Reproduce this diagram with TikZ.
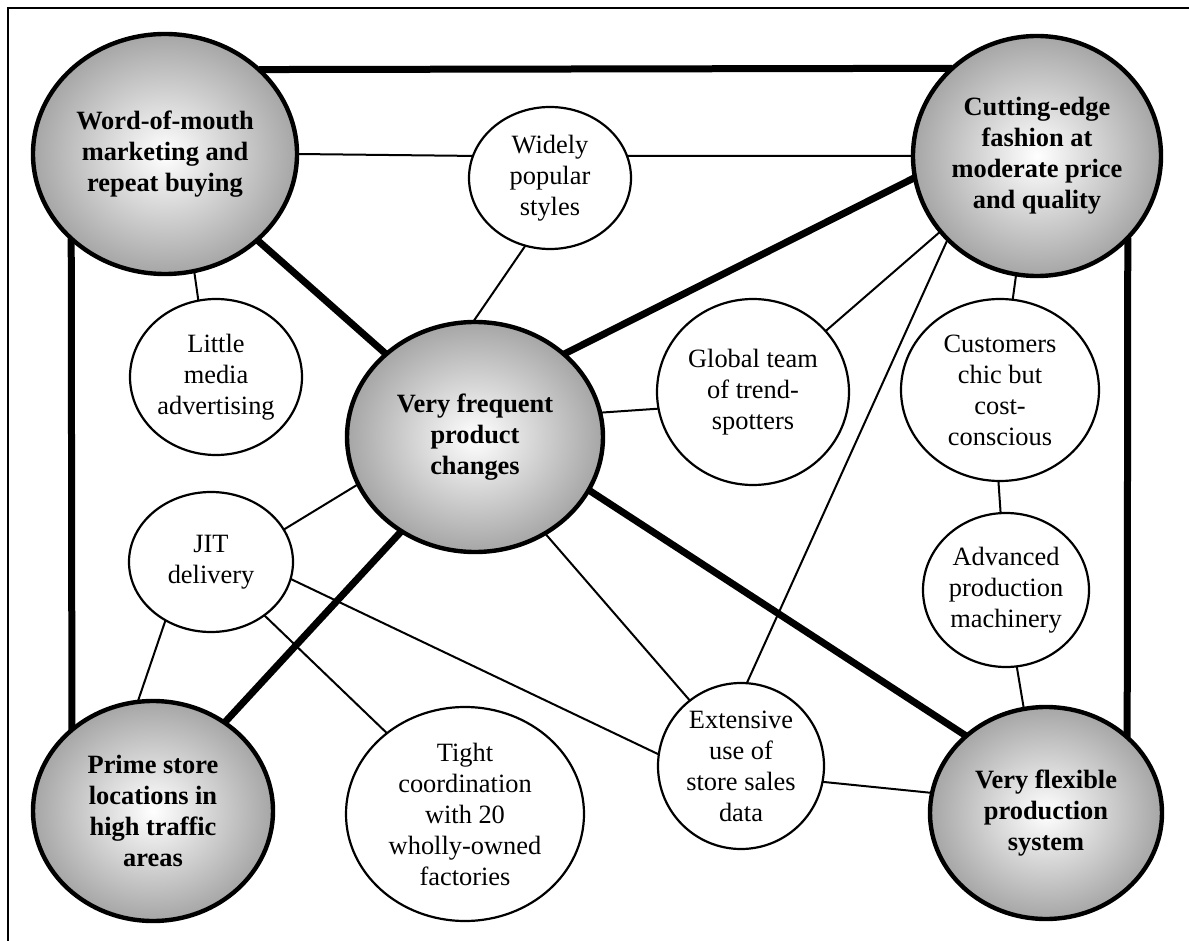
\documentclass[tikz,border=0pt]{standalone}
\usepackage{fontspec}
\setmainfont{Liberation Serif}
\usetikzlibrary{shapes.geometric,backgrounds}
\begin{document}
\begin{tikzpicture}[x=0.5pt,y=-0.5pt,
  txt/.style={font=\fontsize{13.2}{15.5}\selectfont, align=center, inner sep=0pt, outer sep=0pt},
  hub/.style={txt, ellipse, draw, line width=2.2pt, shade, shading=radial,
              inner color=white, outer color=gray!70,
              font=\fontsize{13.2}{15.5}\selectfont\bfseries},
  leaf/.style={txt, ellipse, draw, line width=1.1pt, fill=white},
  link/.style={line width=1pt},
  strong/.style={line width=3.5pt},
  frameline/.style={line width=1pt}
]
\useasboundingbox (0,0) rectangle (1189,941);

% outer frame (top and left edges)
\coordinate (f1) at (8,941);
\coordinate (f2) at (8,8);
\coordinate (f3) at (1189,8);
\draw[frameline] (f1) -- (f2) -- (f3);

% core themes
\node[hub, minimum width=132pt, minimum height=120pt] (wom) at (165,154)
  {Word-of-mouth\\marketing and\\repeat buying};
\node[hub, minimum width=124pt, minimum height=120pt] (ce) at (1037,156)
  {Cutting-edge\\fashion at\\moderate price\\and quality};
\node[hub, minimum width=128pt, minimum height=115pt] (vfpc) at (475,437)
  {Very frequent\\product\\changes};
\node[hub, minimum width=120pt, minimum height=110pt] (prime) at (153,811)
  {Prime store\\locations in\\high traffic\\areas};
\node[hub, minimum width=116pt, minimum height=106pt] (vf) at (1046,813)
  {Very flexible\\production\\system};

% supporting activities
\node[leaf, minimum width=81pt, minimum height=71pt] (wide) at (550,178)
  {Widely\\popular\\styles};
\node[leaf, minimum width=86pt, minimum height=78pt] (little) at (216,377)
  {Little\\media\\advertising};
\node[leaf, minimum width=96pt, minimum height=93pt] (glob) at (753,392)
  {Global team\\of trend-\\spotters};
\node[leaf, minimum width=99pt, minimum height=91pt] (cust) at (1000,390)
  {Customers\\chic but\\cost-\\conscious};
\node[leaf, minimum width=83pt, minimum height=77pt] (adv) at (1006,590)
  {Advanced\\production\\machinery};
\node[leaf, minimum width=82pt, minimum height=70pt] (jit) at (211,562)
  {JIT\\delivery};
\node[leaf, minimum width=119pt, minimum height=107pt] (tight) at (465,814)
  {Tight\\coordination\\with 20\\wholly-owned\\factories};
\node[leaf, minimum width=83pt, minimum height=83pt] (ext) at (741,766)
  {Extensive\\use of\\store sales\\data};

\begin{scope}[on background layer]
  % heavy links between the corner themes
  \draw[strong] (wom.42.2) -- (ce.134.7);
  \draw[strong] (wom.222.2) -- (prime.135.3);
  \draw[strong] (ce.-42.7) -- (vf.43.6);

  % strong links to the central theme
  \draw[strong] (wom.-43) -- (vfpc.137);
  \draw[strong] (vfpc.43) -- (ce.190);
  \draw[strong] (vfpc.-25) -- (vf.136);
  \draw[strong] (vfpc.232) -- (prime.51);

  % ordinary links
  \draw[link] (wom.0) -- (wide.164);
  \draw[link] (wide.16) -- (ce.180);
  \draw[link] (wom.-76) -- (little.103.5);
  \draw[link] (wide.250) -- (vfpc.91);
  \draw[link] (vfpc.11) -- (glob.190);
  \draw[link] (glob.40) -- (ce.218);
  \draw[link] (ext.86) -- (ce.223);
  \draw[link] (ce.260) -- (cust.82);
  \draw[link] (cust.269) -- (adv.94);
  \draw[link] (adv.278.5) -- (vf.102.5);
  \draw[link] (vfpc.-54.5) -- (ext.128);
  \draw[link] (ext.-11) -- (vf.170);
  \draw[link] (jit.24) -- (vfpc.202);
  \draw[link] (jit.232) -- (prime.98);
  \draw[link] (jit.-45) -- (tight.134.6);
  \draw[link] (jit.-12.4) -- (ext.172.5);
\end{scope}
\end{tikzpicture}
\end{document}
